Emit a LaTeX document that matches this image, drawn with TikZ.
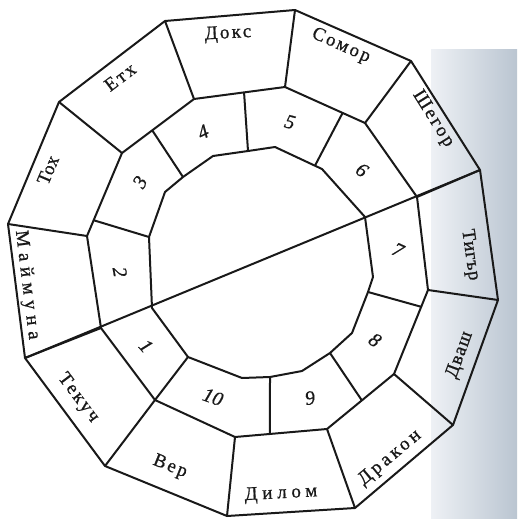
\documentclass[tikz,border=0pt]{standalone}
\usepackage{fontspec}
\setmainfont{Liberation Serif}
\newfontfamily\labfont[FakeBold=0.8]{Liberation Serif}
\newfontfamily\numfont[FakeBold=0.8]{Liberation Serif}
\usetikzlibrary{calc}
\definecolor{ink}{RGB}{25,25,25}
\definecolor{scanA}{RGB}{238,241,245}
\definecolor{scanB}{RGB}{186,197,209}
\newcommand{\ls}[2]{{\addfontfeature{LetterSpace=#1}#2}}
\begin{document}
\begin{tikzpicture}[x=1pt,y=-1pt,line width=2pt,line join=round,draw=ink,
  lab/.style={font=\labfont\fontsize{19}{19}\selectfont,inner sep=0pt,text=ink},
  num/.style={font=\numfont\itshape\fontsize{20}{20}\selectfont,inner sep=0pt,text=ink}]
\useasboundingbox (0,0) rectangle (517,519);
\shade[left color=scanA,right color=scanB,draw=none] (431,50) rectangle (517,519);
% outer polygon
\coordinate (O1) at (165,21);  \coordinate (O2) at (295,10);
\coordinate (O3) at (411,61);  \coordinate (O4) at (480,170);
\coordinate (O5) at (498,300); \coordinate (O6) at (453,425);
\coordinate (O7) at (355,508); \coordinate (O8) at (227,516);
\coordinate (O9) at (105,466); \coordinate (O10) at (25,358);
\coordinate (O11) at (8,224);  \coordinate (O12) at (59,102);
% middle polygon
\coordinate (M1) at (194,99);  \coordinate (M2) at (285,87);
\coordinate (M3) at (365,123); \coordinate (M4) at (417,197);
\coordinate (M5) at (428,290); \coordinate (M6) at (394,374);
\coordinate (M7) at (327,429); \coordinate (M8) at (235,437);
\coordinate (M9) at (155,400); \coordinate (M10) at (101,328);
\coordinate (M11) at (87,236); \coordinate (M12) at (122,153);
% inner polygon
\coordinate (I1) at (183,177);  \coordinate (I2) at (213,156);
\coordinate (I3) at (248,151);  \coordinate (I4) at (275,147);
\coordinate (I5) at (322,169);  \coordinate (I6) at (365,217);
\coordinate (I7) at (373,277);  \coordinate (I8) at (368,292);
\coordinate (I9) at (352,333);  \coordinate (I10) at (330,353);
\coordinate (I11) at (302,371); \coordinate (I12) at (270,377);
\coordinate (I13) at (242,378); \coordinate (I14) at (188,357);
\coordinate (I15) at (152,308); \coordinate (I16) at (149,237);
\coordinate (I17) at (165,192);
% spoke points on edges
\coordinate (P34) at ($(M12)!0.42!(M1)$);
\coordinate (P45) at ($(M1)!0.55!(M2)$);
\coordinate (P56) at ($(M2)!0.72!(M3)$);
\coordinate (Q56) at ($(I4)!0.85!(I5)$);
\coordinate (P78) at ($(M5)!0.2!(M6)$);
\coordinate (P89) at ($(M6)!0.48!(M7)$);
\coordinate (P910) at ($(M7)!0.62!(M8)$);
\coordinate (P23) at ($(M11)!0.19!(M12)$);

\draw (O1)--(O2)--(O3)--(O4)--(O5)--(O6)--(O7)--(O8)--(O9)--(O10)--(O11)--(O12)--cycle;
\draw (M1)--(M2)--(M3)--(M4)--(M5)--(M6)--(M7)--(M8)--(M9)--(M10)--(M11)--(M12)--cycle;
\draw (I1)--(I2)--(I3)--(I4)--(I5)--(I6)--(I7)--(I8)--(I9)--(I10)--(I11)--(I12)--(I13)--(I14)--(I15)--(I16)--(I17)--cycle;
\foreach \i in {1,...,12} {\draw (O\i)--(M\i);}
\draw (O10)--(O4);
\draw (I1)--(P34);
\draw (I3)--(P45);
\draw (Q56)--(P56);
\draw (I8)--(P78);
\draw (I10)--(P89);
\draw (I12)--(P910);
\draw (I14)--(M9);
\draw (I16)--(P23);

% outer labels
\node[lab,rotate=3]   (l1)  at (228,34)  {\ls{12}{Докс}};
\node[lab,rotate=-24] (l2)  at (341,46)  {\ls{12}{Сомор}};
\node[lab,rotate=-58] (l3)  at (433,119) {\ls{12}{Шегор}};
\node[lab,rotate=-82] (l4)  at (470,255) {\ls{4}{Тигър}};
\node[lab,rotate=70]  (l5)  at (460,355) {\ls{6}{Дваш}};
\node[lab,rotate=40]  (l6)  at (390,458) {\ls{18}{Дракон}};
\node[lab,rotate=3]   (l7)  at (281,494) {\ls{25}{Дилом}};
\node[lab,rotate=-22] (l8)  at (170,467) {\ls{12}{Вер}};
\node[lab,rotate=-53] (l9)  at (78,398)  {\ls{12}{Текуч}};
\node[lab,rotate=-83] (l10) at (27,285)  {\ls{30}{Маймуна}};
\node[lab,rotate=67]  (l11) at (48,170)  {\ls{2}{Тох}};
\node[lab,rotate=37]  (l12) at (120,77)  {\ls{12}{Етх}};
% numbers
\node[num,rotate=-48] (n1)  at (146,346) {1};
\node[num,rotate=-80] (n2)  at (120,272) {2};
\node[num,rotate=60]  (n3)  at (140,182) {3};
\node[num,rotate=25]  (n4)  at (203,132) {4};
\node[num,rotate=-15] (n5)  at (290,122) {5};
\node[num,rotate=-35] (n6)  at (362,170) {6};
\node[num,rotate=-25] (n7)  at (398,250) {7};
\node[num,rotate=-35] (n8)  at (375,340) {8};
\node[num,rotate=10]  (n9)  at (310,398) {9};
\node[num,rotate=-20] (n10) at (213,397) {10};
\end{tikzpicture}
\end{document}
